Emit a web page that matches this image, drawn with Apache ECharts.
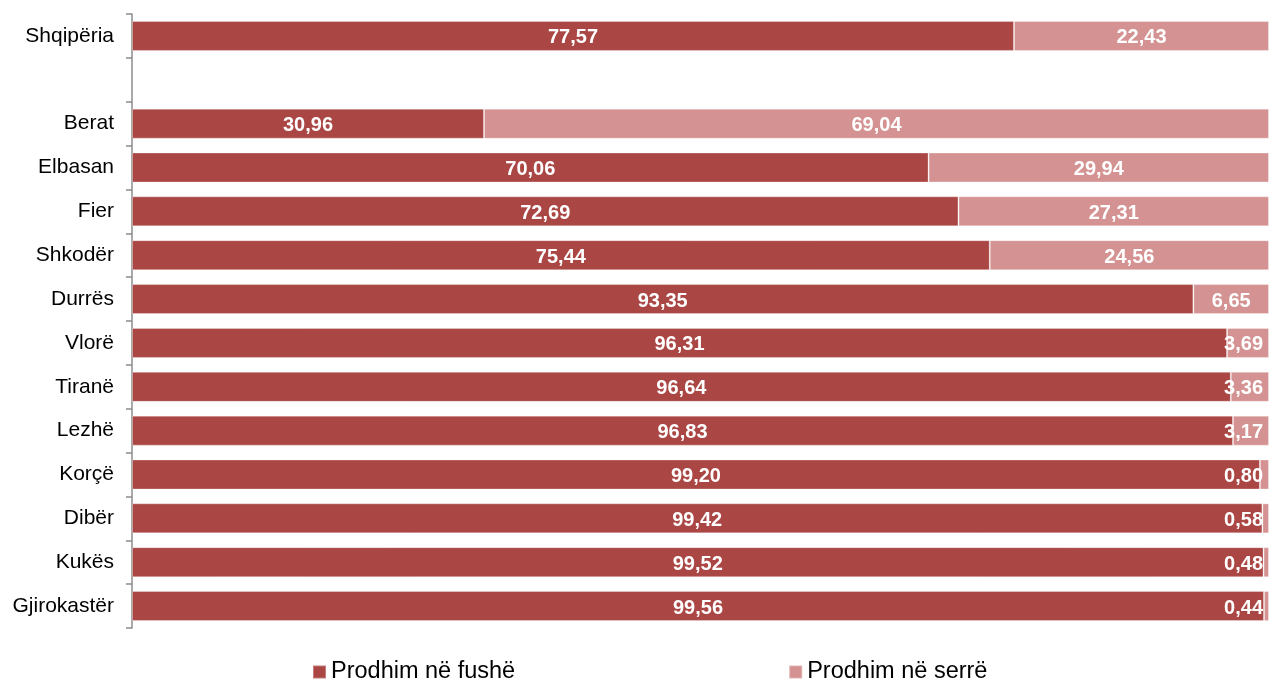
<!DOCTYPE html>
<html>
<head>
<meta charset="utf-8">
<script src="https://cdn.jsdelivr.net/npm/echarts@6/dist/echarts.min.js"></script>
<style>
  html, body { margin: 0; padding: 0; background: #fff; }
  #chart { width: 1269px; height: 684px; }
</style>
</head>
<body>
<div id="chart"></div>
<script>
// kategoritë (rreshti bosh ndan totalin nga qarqet)
var categories = ['Shqipëria', '', 'Berat', 'Elbasan', 'Fier', 'Shkodër', 'Durrës', 'Vlorë', 'Tiranë', 'Lezhë', 'Korçë', 'Dibër', 'Kukës', 'Gjirokastër'];
var fushe = [77.57, null, 30.96, 70.06, 72.69, 75.44, 93.35, 96.31, 96.64, 96.83, 99.20, 99.42, 99.52, 99.56];
var serre = [22.43, null, 69.04, 29.94, 27.31, 24.56, 6.65, 3.69, 3.36, 3.17, 0.80, 0.58, 0.48, 0.44];
var seriesNames = ['Prodhim në fushë', 'Prodhim në serrë'];

var font = 'Arial, "Liberation Sans", sans-serif';

function fmt(p) {
    if (p.value == null) return '';
    return p.value.toFixed(2).replace('.', ',');
}

// vlerat e vogla te serra: etiketa ngjitur me skajin e djathtë
var serreData = serre.map(function (v) {
    if (v != null && v < 5) {
        return { value: v, label: { position: 'insideRight', distance: 6 } };
    }
    return v;
});

var barLabel = {
    show: true,
    position: 'inside',
    offset: [0, 2],
    color: '#fff',
    fontWeight: 'bold',
    fontSize: 20,
    fontFamily: font,
    formatter: fmt
};

var chart = echarts.init(document.getElementById('chart'));
var option = {
    animation: false,
    textStyle: { fontFamily: font },
    grid: { left: 132, right: 0, top: 14, bottom: 56, containLabel: false },
    legend: {
        data: seriesNames,
        left: 307,
        top: 655,
        itemWidth: 13,
        itemHeight: 13,
        itemGap: 273,
        icon: 'rect',
        textStyle: { fontSize: 23.5, color: '#000', fontFamily: font }
    },
    xAxis: {
        type: 'value',
        min: 0,
        max: 100,
        show: false
    },
    yAxis: {
        type: 'category',
        data: categories,
        inverse: true,
        axisLine: { show: true, lineStyle: { color: '#8c8c8c', width: 1.5 } },
        axisTick: { show: true, length: 6, alignWithLabel: false, lineStyle: { color: '#8c8c8c', width: 1.5 } },
        axisLabel: { color: '#000', fontSize: 21, margin: 18, fontFamily: font, padding: [6, 0, 0, 0] }
    },
    series: [
        {
            name: seriesNames[0],
            type: 'bar',
            stack: 'total',
            barWidth: 30,
            data: fushe,
            itemStyle: { color: '#AA4643', borderColor: 'rgba(255,255,255,0.3)', borderWidth: 1 },
            label: barLabel
        },
        {
            name: seriesNames[1],
            type: 'bar',
            stack: 'total',
            barWidth: 30,
            data: serreData,
            itemStyle: { color: '#D49392', borderColor: 'rgba(255,255,255,0.3)', borderWidth: 1 },
            label: barLabel
        }
    ]
};
chart.setOption(option);
</script>
</body>
</html>
